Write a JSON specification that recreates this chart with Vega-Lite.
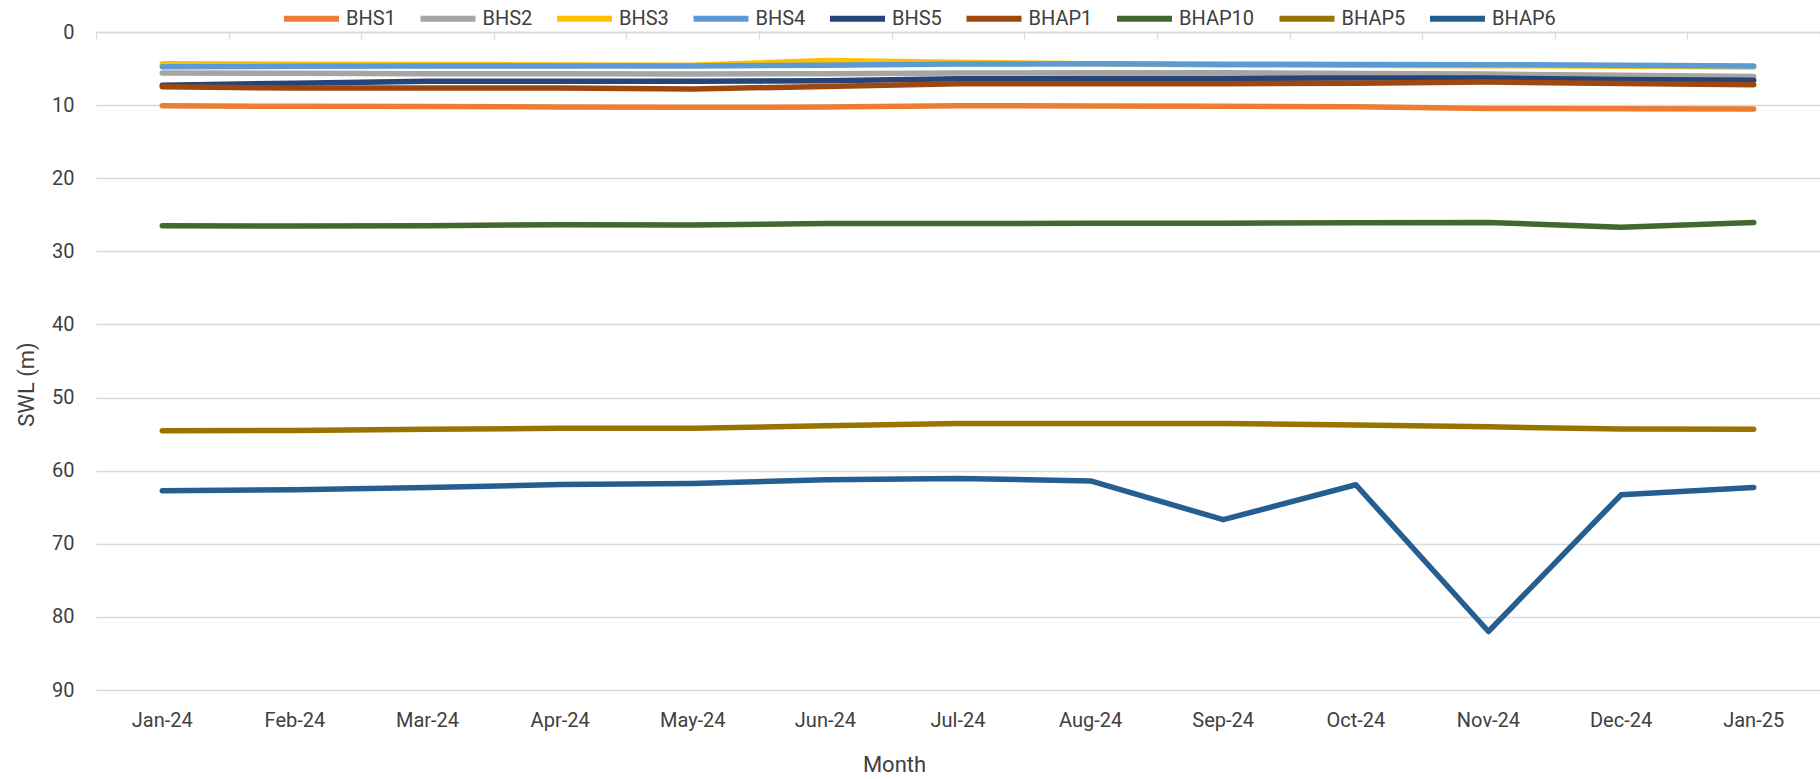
{
  "$schema": "https://vega.github.io/schema/vega-lite/v6.json",
  "width": 1724,
  "height": 658,
  "autosize": {"type": "none"},
  "padding": {"left": 96, "top": 32, "right": 0, "bottom": 89},
  "background": "white",
  "config": {"view": {"stroke": null}, "font": "Roboto"},
  "datasets": {
    "swl": [
      {"month": "Jan-24", "series": "BHS1", "swl": 10.08}, {"month": "Feb-24", "series": "BHS1", "swl": 10.17}, {"month": "Mar-24", "series": "BHS1", "swl": 10.2}, {"month": "Apr-24", "series": "BHS1", "swl": 10.26}, {"month": "May-24", "series": "BHS1", "swl": 10.3}, {"month": "Jun-24", "series": "BHS1", "swl": 10.26}, {"month": "Jul-24", "series": "BHS1", "swl": 10.08}, {"month": "Aug-24", "series": "BHS1", "swl": 10.13}, {"month": "Sep-24", "series": "BHS1", "swl": 10.17}, {"month": "Oct-24", "series": "BHS1", "swl": 10.22}, {"month": "Nov-24", "series": "BHS1", "swl": 10.45}, {"month": "Dec-24", "series": "BHS1", "swl": 10.5}, {"month": "Jan-25", "series": "BHS1", "swl": 10.53},
      {"month": "Jan-24", "series": "BHS2", "swl": 5.6}, {"month": "Feb-24", "series": "BHS2", "swl": 5.65}, {"month": "Mar-24", "series": "BHS2", "swl": 5.7}, {"month": "Apr-24", "series": "BHS2", "swl": 5.7}, {"month": "May-24", "series": "BHS2", "swl": 5.75}, {"month": "Jun-24", "series": "BHS2", "swl": 5.7}, {"month": "Jul-24", "series": "BHS2", "swl": 5.6}, {"month": "Aug-24", "series": "BHS2", "swl": 5.58}, {"month": "Sep-24", "series": "BHS2", "swl": 5.57}, {"month": "Oct-24", "series": "BHS2", "swl": 5.66}, {"month": "Nov-24", "series": "BHS2", "swl": 5.75}, {"month": "Dec-24", "series": "BHS2", "swl": 5.93}, {"month": "Jan-25", "series": "BHS2", "swl": 6.07},
      {"month": "Jan-24", "series": "BHS3", "swl": 4.35}, {"month": "Feb-24", "series": "BHS3", "swl": 4.4}, {"month": "Mar-24", "series": "BHS3", "swl": 4.45}, {"month": "Apr-24", "series": "BHS3", "swl": 4.5}, {"month": "May-24", "series": "BHS3", "swl": 4.55}, {"month": "Jun-24", "series": "BHS3", "swl": 3.9}, {"month": "Jul-24", "series": "BHS3", "swl": 4.15}, {"month": "Aug-24", "series": "BHS3", "swl": 4.35}, {"month": "Sep-24", "series": "BHS3", "swl": 4.5}, {"month": "Oct-24", "series": "BHS3", "swl": 4.55}, {"month": "Nov-24", "series": "BHS3", "swl": 4.6}, {"month": "Dec-24", "series": "BHS3", "swl": 4.68}, {"month": "Jan-25", "series": "BHS3", "swl": 4.78},
      {"month": "Jan-24", "series": "BHS4", "swl": 4.75}, {"month": "Feb-24", "series": "BHS4", "swl": 4.7}, {"month": "Mar-24", "series": "BHS4", "swl": 4.65}, {"month": "Apr-24", "series": "BHS4", "swl": 4.65}, {"month": "May-24", "series": "BHS4", "swl": 4.65}, {"month": "Jun-24", "series": "BHS4", "swl": 4.55}, {"month": "Jul-24", "series": "BHS4", "swl": 4.38}, {"month": "Aug-24", "series": "BHS4", "swl": 4.35}, {"month": "Sep-24", "series": "BHS4", "swl": 4.4}, {"month": "Oct-24", "series": "BHS4", "swl": 4.43}, {"month": "Nov-24", "series": "BHS4", "swl": 4.47}, {"month": "Dec-24", "series": "BHS4", "swl": 4.56}, {"month": "Jan-25", "series": "BHS4", "swl": 4.65},
      {"month": "Jan-24", "series": "BHS5", "swl": 7.3}, {"month": "Feb-24", "series": "BHS5", "swl": 7.0}, {"month": "Mar-24", "series": "BHS5", "swl": 6.75}, {"month": "Apr-24", "series": "BHS5", "swl": 6.75}, {"month": "May-24", "series": "BHS5", "swl": 6.75}, {"month": "Jun-24", "series": "BHS5", "swl": 6.66}, {"month": "Jul-24", "series": "BHS5", "swl": 6.4}, {"month": "Aug-24", "series": "BHS5", "swl": 6.35}, {"month": "Sep-24", "series": "BHS5", "swl": 6.35}, {"month": "Oct-24", "series": "BHS5", "swl": 6.3}, {"month": "Nov-24", "series": "BHS5", "swl": 6.3}, {"month": "Dec-24", "series": "BHS5", "swl": 6.48}, {"month": "Jan-25", "series": "BHS5", "swl": 6.6},
      {"month": "Jan-24", "series": "BHAP1", "swl": 7.5}, {"month": "Feb-24", "series": "BHAP1", "swl": 7.66}, {"month": "Mar-24", "series": "BHAP1", "swl": 7.66}, {"month": "Apr-24", "series": "BHAP1", "swl": 7.66}, {"month": "May-24", "series": "BHAP1", "swl": 7.8}, {"month": "Jun-24", "series": "BHAP1", "swl": 7.44}, {"month": "Jul-24", "series": "BHAP1", "swl": 7.07}, {"month": "Aug-24", "series": "BHAP1", "swl": 7.07}, {"month": "Sep-24", "series": "BHAP1", "swl": 7.07}, {"month": "Oct-24", "series": "BHAP1", "swl": 7.0}, {"month": "Nov-24", "series": "BHAP1", "swl": 6.85}, {"month": "Dec-24", "series": "BHAP1", "swl": 7.05}, {"month": "Jan-25", "series": "BHAP1", "swl": 7.2},
      {"month": "Jan-24", "series": "BHAP10", "swl": 26.5}, {"month": "Feb-24", "series": "BHAP10", "swl": 26.55}, {"month": "Mar-24", "series": "BHAP10", "swl": 26.5}, {"month": "Apr-24", "series": "BHAP10", "swl": 26.35}, {"month": "May-24", "series": "BHAP10", "swl": 26.4}, {"month": "Jun-24", "series": "BHAP10", "swl": 26.2}, {"month": "Jul-24", "series": "BHAP10", "swl": 26.2}, {"month": "Aug-24", "series": "BHAP10", "swl": 26.15}, {"month": "Sep-24", "series": "BHAP10", "swl": 26.15}, {"month": "Oct-24", "series": "BHAP10", "swl": 26.1}, {"month": "Nov-24", "series": "BHAP10", "swl": 26.05}, {"month": "Dec-24", "series": "BHAP10", "swl": 26.7}, {"month": "Jan-25", "series": "BHAP10", "swl": 26.05},
      {"month": "Jan-24", "series": "BHAP5", "swl": 54.54}, {"month": "Feb-24", "series": "BHAP5", "swl": 54.5}, {"month": "Mar-24", "series": "BHAP5", "swl": 54.35}, {"month": "Apr-24", "series": "BHAP5", "swl": 54.2}, {"month": "May-24", "series": "BHAP5", "swl": 54.2}, {"month": "Jun-24", "series": "BHAP5", "swl": 53.86}, {"month": "Jul-24", "series": "BHAP5", "swl": 53.54}, {"month": "Aug-24", "series": "BHAP5", "swl": 53.54}, {"month": "Sep-24", "series": "BHAP5", "swl": 53.54}, {"month": "Oct-24", "series": "BHAP5", "swl": 53.77}, {"month": "Nov-24", "series": "BHAP5", "swl": 54.0}, {"month": "Dec-24", "series": "BHAP5", "swl": 54.3}, {"month": "Jan-25", "series": "BHAP5", "swl": 54.35},
      {"month": "Jan-24", "series": "BHAP6", "swl": 62.75}, {"month": "Feb-24", "series": "BHAP6", "swl": 62.6}, {"month": "Mar-24", "series": "BHAP6", "swl": 62.3}, {"month": "Apr-24", "series": "BHAP6", "swl": 61.9}, {"month": "May-24", "series": "BHAP6", "swl": 61.75}, {"month": "Jun-24", "series": "BHAP6", "swl": 61.25}, {"month": "Jul-24", "series": "BHAP6", "swl": 61.07}, {"month": "Aug-24", "series": "BHAP6", "swl": 61.4}, {"month": "Sep-24", "series": "BHAP6", "swl": 66.7}, {"month": "Oct-24", "series": "BHAP6", "swl": 61.93}, {"month": "Nov-24", "series": "BHAP6", "swl": 82.0}, {"month": "Dec-24", "series": "BHAP6", "swl": 63.3}, {"month": "Jan-25", "series": "BHAP6", "swl": 62.3}
    ]
  },
  "data": {"name": "swl"},
  "layer": [
    {
      "mark": {"type": "line", "strokeWidth": 5.5, "strokeCap": "round", "strokeJoin": "round"},
      "encoding": {
        "x": {
          "field": "month", "type": "ordinal",
          "scale": {"type": "band", "domain": ["Jan-24", "Feb-24", "Mar-24", "Apr-24", "May-24", "Jun-24", "Jul-24", "Aug-24", "Sep-24", "Oct-24", "Nov-24", "Dec-24", "Jan-25"], "paddingInner": 0, "paddingOuter": 0},
          "axis": {"orient": "bottom", "domain": false, "ticks": false, "tickSize": 0, "grid": false, "labelAngle": 0, "labelFontSize": 20, "labelColor": "#404040", "labelPadding": 30, "labelBaseline": "middle", "title": "Month", "titleFontSize": 22, "titleFontWeight": "normal", "titleColor": "#404040", "titleX": 798, "titleY": 74, "titleBaseline": "middle"}
        },
        "y": {
          "field": "swl", "type": "quantitative",
          "scale": {"domain": [0, 90], "reverse": true, "nice": false, "zero": false},
          "axis": {"values": [0, 10, 20, 30, 40, 50, 60, 70, 80, 90], "domain": false, "ticks": false, "tickSize": 0, "grid": true, "gridColor": "#D9D9D9", "gridWidth": 1.3, "labelFontSize": 20, "labelPadding": 22, "labelColor": "#404040", "title": "SWL (m)", "titleFontSize": 22, "titleFontWeight": "normal", "titleColor": "#404040", "titleX": -70, "titleY": 352, "titleBaseline": "middle", "titleAngle": -90}
        },
        "color": {
          "field": "series", "type": "nominal",
          "scale": {"domain": ["BHS1", "BHS2", "BHS3", "BHS4", "BHS5", "BHAP1", "BHAP10", "BHAP5", "BHAP6"], "range": ["#ED7D31", "#A5A5A5", "#FFC000", "#5B9BD5", "#264478", "#9E480E", "#43682B", "#997300", "#255E91"]},
          "legend": {"orient": "none", "legendX": 185, "legendY": -44, "direction": "horizontal", "columns": 9, "title": null, "symbolType": "stroke", "symbolSize": 3025, "symbolStrokeWidth": 6, "labelFontSize": 20, "labelColor": "#404040", "labelOffset": 4, "columnPadding": 12.5}
        }
      }
    },
    {
      "mark": {"type": "line", "opacity": 0},
      "encoding": {
        "x": {"field": "month", "type": "ordinal", "axis": {"orient": "top", "labels": false, "domain": true, "domainColor": "#D9D9D9", "domainWidth": 1.3, "ticks": true, "tickColor": "#D9D9D9", "tickWidth": 1.3, "tickSize": -7, "tickBand": "extent", "grid": false, "title": null}},
        "y": {"field": "swl", "type": "quantitative"},
        "detail": {"field": "series"}
      }
    }
  ],
  "resolve": {"axis": {"x": "independent"}}
}
